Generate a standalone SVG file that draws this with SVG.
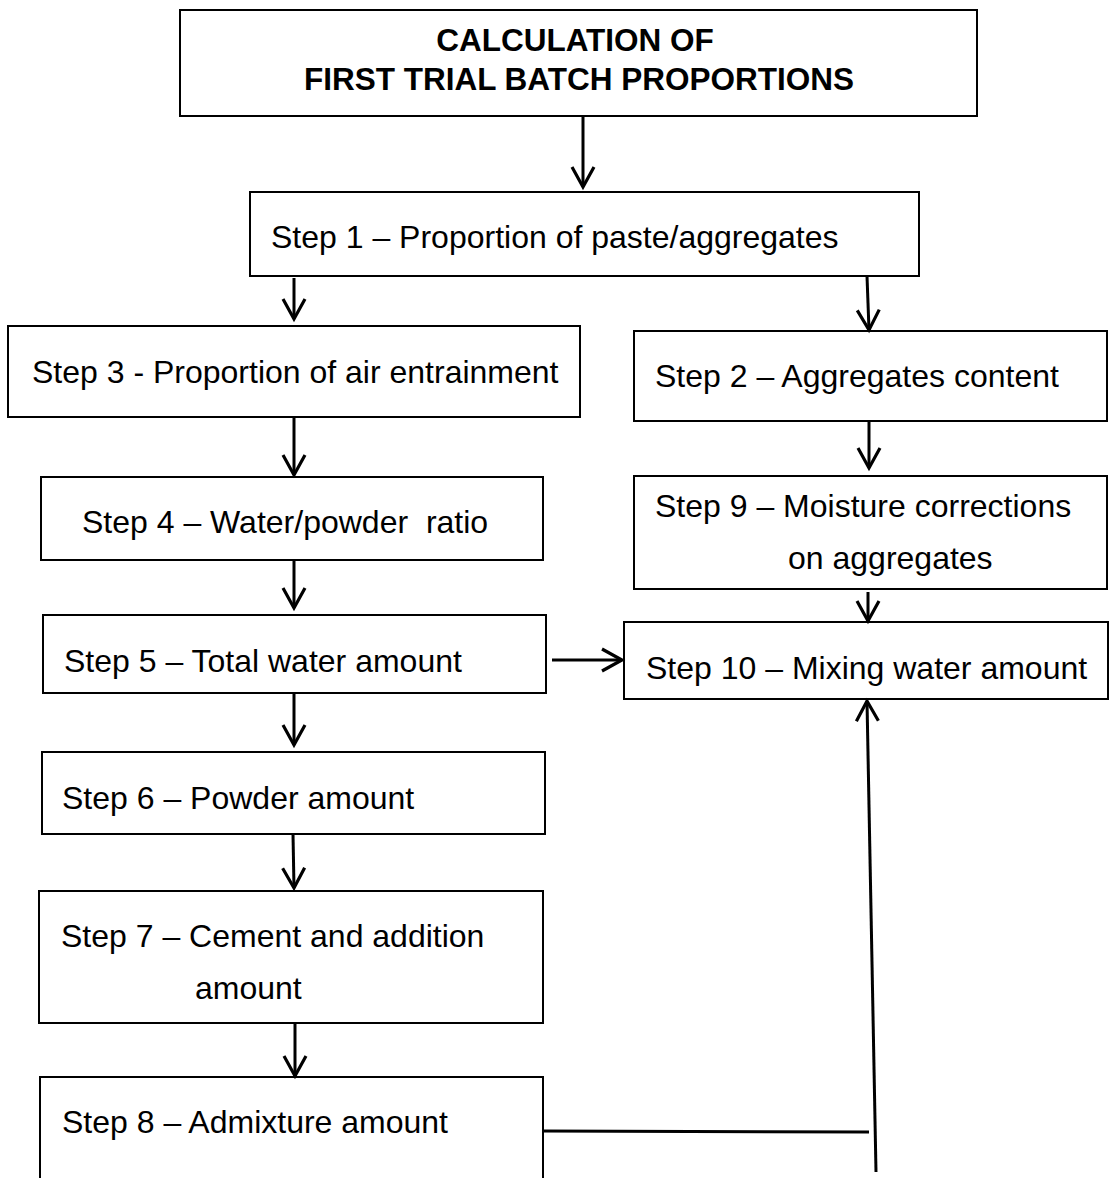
<svg xmlns="http://www.w3.org/2000/svg" width="1110" height="1178" viewBox="0 0 1110 1178">
  <style>
    .box { fill: #ffffff; stroke: #000000; stroke-width: 2; }
    .lbl { font-family: "Liberation Sans", Arial, sans-serif; font-size: 32px; fill: #000000; white-space: pre; }
    .ttl { font-family: "Liberation Sans", Arial, sans-serif; font-size: 31.5px; font-weight: bold; fill: #000000; text-anchor: middle; }
    .con { fill: none; stroke: #000000; stroke-width: 3; }
  </style>
  <defs>
    <marker id="arr" markerUnits="userSpaceOnUse" markerWidth="40" markerHeight="40" viewBox="-30 -20 40 40" refX="0" refY="0" orient="auto" overflow="visible">
      <path d="M -20 -11 L 0 0 L -20 11" fill="none" stroke="#000000" stroke-width="3.2" stroke-linejoin="miter"/>
    </marker>
  </defs>
  <rect width="1110" height="1178" fill="#ffffff"/>

  <g id="title">
    <rect class="box" x="180" y="10" width="797" height="106"/>
    <text class="ttl" x="575" y="51">CALCULATION OF</text>
    <text class="ttl" x="579" y="90">FIRST TRIAL BATCH PROPORTIONS</text>
  </g>
  <g id="step1">
    <rect class="box" x="250" y="192" width="669" height="84"/>
    <text class="lbl" x="271" y="248">Step 1 – Proportion of paste/aggregates</text>
  </g>
  <g id="step3">
    <rect class="box" x="8" y="326" width="572" height="91"/>
    <text class="lbl" x="32" y="383">Step 3 - Proportion of air entrainment</text>
  </g>
  <g id="step2">
    <rect class="box" x="634" y="331" width="473" height="90"/>
    <text class="lbl" x="655" y="387">Step 2 – Aggregates content</text>
  </g>
  <g id="step4">
    <rect class="box" x="41" y="477" width="502" height="83"/>
    <text class="lbl" x="82" y="533">Step 4 – Water/powder  ratio</text>
  </g>
  <g id="step9">
    <rect class="box" x="634" y="476" width="473" height="113"/>
    <text class="lbl" x="655" y="517">Step 9 – Moisture corrections</text>
    <text class="lbl" x="788" y="569">on aggregates</text>
  </g>
  <g id="step5">
    <rect class="box" x="43" y="615" width="503" height="78"/>
    <text class="lbl" x="64" y="672">Step 5 – Total water amount</text>
  </g>
  <g id="step10">
    <rect class="box" x="624" y="622" width="484" height="77"/>
    <text class="lbl" x="646" y="679">Step 10 – Mixing water amount</text>
  </g>
  <g id="step6">
    <rect class="box" x="42" y="752" width="503" height="82"/>
    <text class="lbl" x="62" y="809">Step 6 – Powder amount</text>
  </g>
  <g id="step7">
    <rect class="box" x="39" y="891" width="504" height="132"/>
    <text class="lbl" x="61" y="947">Step 7 – Cement and addition</text>
    <text class="lbl" x="195" y="999">amount</text>
  </g>
  <g id="step8">
    <path class="box" d="M 40 1180 V 1077 H 543 V 1180"/>
    <text class="lbl" x="62" y="1133">Step 8 – Admixture amount</text>
  </g>

  <g id="connectors">
    <line class="con" x1="583" y1="116" x2="583" y2="187" marker-end="url(#arr)"/>
    <line class="con" x1="294" y1="278" x2="294" y2="319" marker-end="url(#arr)"/>
    <line class="con" x1="867" y1="276" x2="869" y2="330" marker-end="url(#arr)"/>
    <line class="con" x1="294" y1="417" x2="294" y2="475" marker-end="url(#arr)"/>
    <line class="con" x1="869" y1="421" x2="869" y2="468" marker-end="url(#arr)"/>
    <line class="con" x1="294" y1="560" x2="294" y2="608" marker-end="url(#arr)"/>
    <line class="con" x1="868" y1="592" x2="868" y2="621" marker-end="url(#arr)"/>
    <line class="con" x1="552" y1="660" x2="622" y2="660" marker-end="url(#arr)"/>
    <line class="con" x1="294" y1="693" x2="294" y2="745" marker-end="url(#arr)"/>
    <line class="con" x1="293" y1="834" x2="294" y2="888" marker-end="url(#arr)"/>
    <line class="con" x1="295" y1="1023" x2="295" y2="1076" marker-end="url(#arr)"/>
    <line class="con" x1="543" y1="1131" x2="869" y2="1132" stroke-width="4"/>
    <line class="con" x1="876" y1="1172" x2="867" y2="701" marker-end="url(#arr)"/>
  </g>
</svg>
